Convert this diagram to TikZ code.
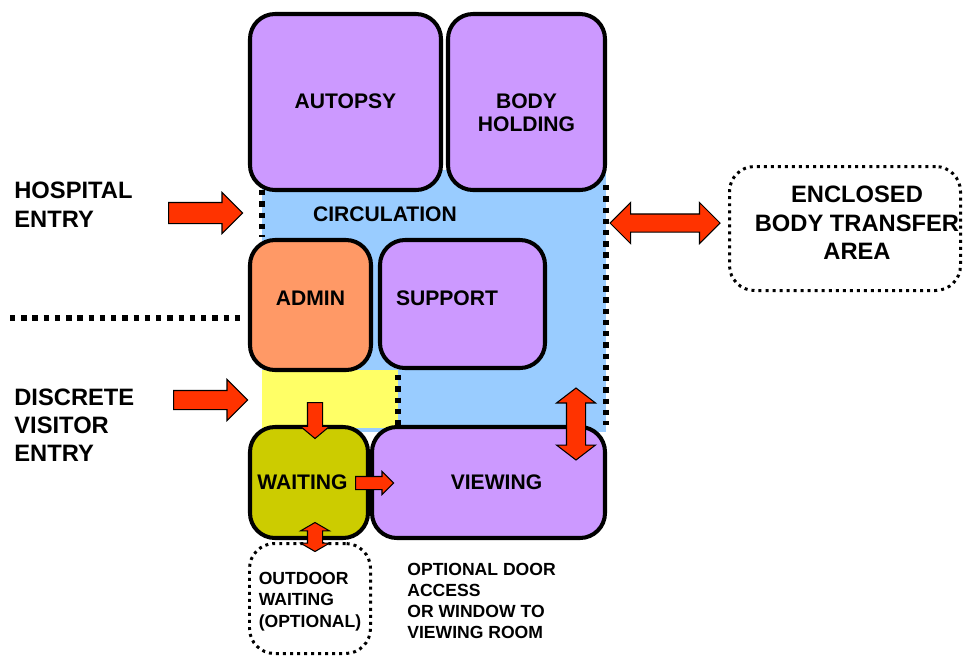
\documentclass[tikz,border=0pt]{standalone}
\usepackage{fontspec}
\setmainfont{Liberation Sans}
\usetikzlibrary{shapes.arrows}

\definecolor{roompurple}{HTML}{CC99FF}
\definecolor{circblue}{HTML}{99CCFF}
\definecolor{adminorange}{HTML}{FF9966}
\definecolor{lobbyyellow}{HTML}{FFFF66}
\definecolor{waitolive}{HTML}{CCCC00}
\definecolor{arrowred}{HTML}{FF3300}

\begin{document}
\begin{tikzpicture}[x=0.2mm, y=-0.2mm,
    room/.style={draw, line width=2.3pt, rounded corners=5mm, fill=roompurple,
        inner sep=0pt, align=center, font=\fontsize{12}{13.6}\selectfont\bfseries},
    optarea/.style={draw, line width=1.7pt, dash pattern=on 1.7pt off 2.3pt,
        rounded corners=5mm, inner sep=0pt, align=left},
    wall/.style={line width=3pt, dash pattern=on 3pt off 3.4pt},
    blockarrow/.style={draw, line width=0.6pt, fill=arrowred, inner sep=0pt},
    sidetext/.style={anchor=west, align=left, inner sep=0pt,
        font=\fontsize{13.5}{16.5}\selectfont\bfseries},
    notetext/.style={anchor=west, align=left, inner sep=0pt,
        font=\fontsize{10}{12}\selectfont\bfseries}]
\useasboundingbox (0,0) rectangle (964,657);

% circulation and lobby floor
\fill[circblue] (262,170) rectangle (606,432);
\fill[lobbyyellow] (262,370) rectangle (398,428);
\node[font=\fontsize{12}{14}\selectfont\bfseries] (circ) at (385,214) {CIRCULATION};

% rooms
\node[room, minimum width=38.2mm, minimum height=35.2mm] (autopsy) at (345.5,102)
    {\raisebox{0.4mm}{AUTOPSY}};
\node[room, minimum width=31.4mm, minimum height=35.2mm] (holding) at (526.5,102)
    {\raisebox{-3.7mm}[0pt][0pt]{\begin{tabular}{@{}c@{}}BODY\\HOLDING\end{tabular}}};
\node[room, fill=adminorange, minimum width=24.2mm, minimum height=26mm] (admin) at (310.5,305)
    {\raisebox{2.6mm}{ADMIN}};
\node[room, minimum width=33mm, minimum height=25.6mm] (support) at (462.5,304)
    {\raisebox{2.4mm}{SUPPORT}\hspace*{6.2mm}};
\node[room, fill=waitolive, minimum width=23.6mm, minimum height=22.2mm] (waiting) at (309,482.5)
    {\hspace*{-2.6mm}WAITING};
\node[room, minimum width=46.6mm, minimum height=22.2mm] (viewing) at (488.5,482.5)
    {\hspace*{3.2mm}VIEWING};

% optional areas
\node[optarea, minimum width=24.2mm, minimum height=22mm,
    font=\fontsize{10}{12.2}\selectfont\bfseries] (outdoor) at (310,598.5)
    {\raisebox{-1.5mm}[0pt][0pt]{\begin{tabular}{@{}l@{}}OUTDOOR\\WAITING\\(OPTIONAL)\end{tabular}}};
\node[optarea, minimum width=46.2mm, minimum height=24.8mm, align=center,
    font=\fontsize{13.5}{16.2}\selectfont\bfseries] (transfer) at (845,228.5)
    {\hspace*{4.8mm}\raisebox{-0.7mm}[0pt][0pt]{\begin{tabular}{@{}c@{}}ENCLOSED\\BODY TRANSFER\\AREA\end{tabular}}};

% open walls
\draw[wall] (262,190) -- (262,237);
\draw[wall] (606,185) -- (606,425);
\draw[wall] (398,375) -- (398,425);
\draw[wall] (10,318) -- (243,318);

% arrows
\node[blockarrow, single arrow, anchor=tail, minimum height=14.8mm, minimum width=8mm,
    inner ysep=2mm, single arrow head extend=2mm] (hosparrow) at (168,213) {};
\node[blockarrow, single arrow, anchor=tail, minimum height=14.8mm, minimum width=8mm,
    inner ysep=1.8mm, single arrow head extend=2.2mm] (visarrow) at (173,400) {};
\node[blockarrow, double arrow, minimum height=22mm, minimum width=8mm,
    inner ysep=1.7mm, double arrow head extend=2.3mm] (transarrow) at (665,223) {};
\node[blockarrow, double arrow, minimum height=14.4mm, minimum width=7.6mm,
    inner ysep=1.8mm, double arrow head extend=2mm, double arrow tip angle=105,
    rotate=90] (viewarrow) at (576,424) {};
\node[blockarrow, single arrow, anchor=tail, minimum height=7.2mm, minimum width=5.6mm,
    inner ysep=1.4mm, single arrow head extend=1.4mm, single arrow tip angle=100,
    rotate=-90] (lobbyarrow) at (315,402) {};
\node[blockarrow, single arrow, anchor=tail, minimum height=7.6mm, minimum width=4.4mm,
    inner ysep=1.2mm, single arrow head extend=1mm] (waitarrow) at (355,483) {};
\node[blockarrow, double arrow, minimum height=5.8mm, minimum width=5.6mm,
    inner ysep=1.4mm, double arrow head extend=1.4mm, double arrow tip angle=120,
    rotate=90] (outarrow) at (315,537) {};

% labels
\node[sidetext] (hosptext) at (14,205) {HOSPITAL\\ENTRY};
\node[sidetext, font=\fontsize{13.5}{15.9}\selectfont\bfseries] (vistext) at (14,425)
    {DISCRETE\\VISITOR\\ENTRY};
\node[notetext] (doortext) at (407,601) {OPTIONAL DOOR\\ACCESS\\OR WINDOW TO\\VIEWING ROOM};

\end{tikzpicture}
\end{document}
